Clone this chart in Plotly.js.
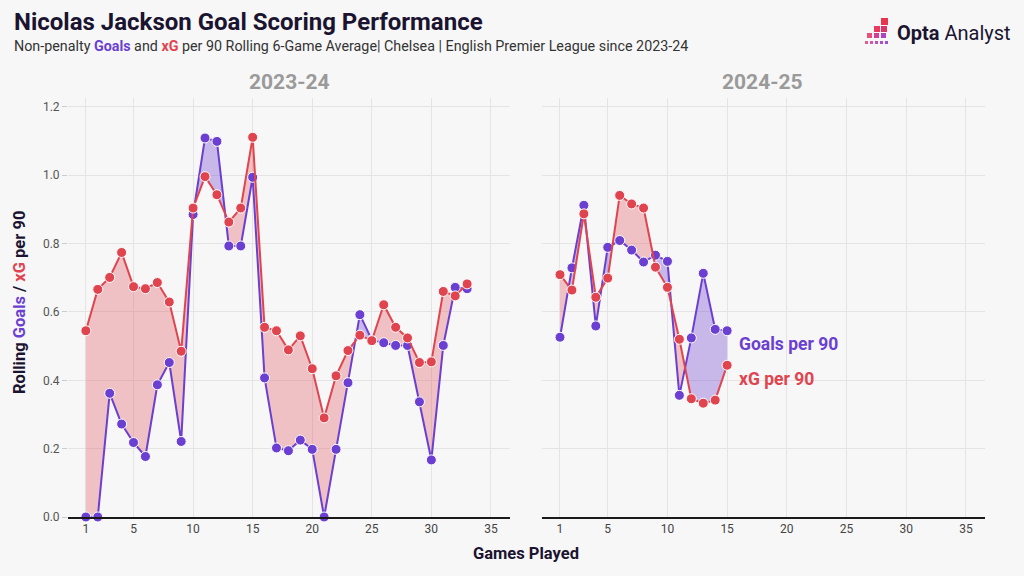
<!DOCTYPE html>
<html>
<head>
<meta charset="utf-8">
<script src="https://cdn.plot.ly/plotly-3.0.1.min.js"></script>
<style>
html,body{margin:0;padding:0;background:#f7f7f7;}
#chart{width:1024px;height:576px;}
</style>
</head>
<body>
<div id="chart"></div>
<script>
// ---- Data ----
const games2324 = [1,2,3,4,5,6,7,8,9,10,11,12,13,14,15,16,17,18,19,20,21,22,23,24,25,26,27,28,29,30,31,32,33];
const goals2324 = [0,0,0.362,0.272,0.218,0.177,0.387,0.452,0.221,0.885,1.109,1.099,0.793,0.793,0.994,0.407,0.202,0.194,0.225,0.198,0,0.198,0.393,0.592,0.518,0.510,0.502,0.502,0.337,0.167,0.502,0.672,0.668];
const xg2324    = [0.545,0.666,0.701,0.774,0.674,0.668,0.686,0.629,0.485,0.904,0.996,0.943,0.863,0.904,1.111,0.555,0.545,0.489,0.530,0.434,0.290,0.413,0.487,0.532,0.516,0.621,0.555,0.524,0.452,0.454,0.660,0.647,0.682];
const games2425 = [1,2,3,4,5,6,7,8,9,10,11,12,13,14,15];
const goals2425 = [0.526,0.729,0.912,0.559,0.789,0.809,0.781,0.746,0.766,0.748,0.356,0.524,0.713,0.549,0.545];
const xg2425    = [0.709,0.664,0.887,0.643,0.699,0.941,0.916,0.904,0.731,0.672,0.520,0.346,0.333,0.342,0.444];
const xTicks = [1,5,10,15,20,25,30,35];
const yTicks = [0,0.2,0.4,0.6,0.8,1.0,1.2];
const seasonLabels = ["2023-24","2024-25"];

// ---- Styles ----
const PURPLE = "#6b3fd1";
const RED = "#e0444f";
const PURPLE_FILL = "rgba(107,63,209,0.34)";
const RED_FILL = "rgba(224,68,79,0.30)";
const BG = "#f7f7f7";

function withCrossings(x, g, e){
  const X=[],G=[],E=[],L=[];
  for(let i=0;i<x.length;i++){
    X.push(x[i]);G.push(g[i]);E.push(e[i]);L.push(Math.min(g[i],e[i]));
    if(i<x.length-1){
      const d0=g[i]-e[i], d1=g[i+1]-e[i+1];
      if(d0*d1<0){
        const t=d0/(d0-d1);
        const xc=x[i]+t*(x[i+1]-x[i]);
        const yc=g[i]+t*(g[i+1]-g[i]);
        X.push(xc);G.push(yc);E.push(yc);L.push(yc);
      }
    }
  }
  return {X,G,E,L};
}

function seasonTraces(x,g,e,xa,ya){
  const c=withCrossings(x,g,e);
  const base={x:c.X,xaxis:xa,yaxis:ya,mode:"lines",line:{width:0},hoverinfo:"skip",showlegend:false};
  return [
    Object.assign({},base,{y:c.L}),
    Object.assign({},base,{y:c.E,fill:"tonexty",fillcolor:RED_FILL}),
    Object.assign({},base,{y:c.L}),
    Object.assign({},base,{y:c.G,fill:"tonexty",fillcolor:PURPLE_FILL}),
    {x:x,y:g,xaxis:xa,yaxis:ya,mode:"lines+markers",cliponaxis:false,showlegend:false,
     line:{color:PURPLE,width:2},marker:{color:PURPLE,size:10,line:{color:"#ffffff",width:1}}},
    {x:x,y:e,xaxis:xa,yaxis:ya,mode:"lines+markers",cliponaxis:false,showlegend:false,
     line:{color:RED,width:2},marker:{color:RED,size:10,line:{color:"#ffffff",width:1}}}
  ];
}

const data = [].concat(
  seasonTraces(games2324,goals2324,xg2324,"x","y"),
  seasonTraces(games2425,goals2425,xg2425,"x2","y2")
);

const FONT="Roboto, 'Noto Sans', sans-serif";
const xaxisBase={
  range:[-0.5,36.6],tickvals:xTicks,ticktext:xTicks.map(String),
  showgrid:true,gridcolor:"#e4e4e4",gridwidth:1,zeroline:false,
  showline:true,linecolor:"#1a1a1a",linewidth:2,ticks:"",
  tickfont:{family:FONT,size:12,color:"#444"},fixedrange:true
};
const L=68,R=39,T=98,B=59,W=1024,H=576;
const pw=W-L-R, ph=H-T-B;
const px=v=>(v-L)/pw, py=v=>(H-B-v)/ph;

const layout={
  width:W,height:H,
  paper_bgcolor:BG,plot_bgcolor:BG,
  margin:{l:L,r:R,t:T,b:B},
  showlegend:false,
  font:{family:FONT},
  xaxis:Object.assign({},xaxisBase,{domain:[0,0.482],anchor:"y"}),
  xaxis2:Object.assign({},xaxisBase,{domain:[0.517,1],anchor:"y2"}),
  yaxis:{range:[0,1.226],tickvals:yTicks,ticktext:yTicks.map(v=>v.toFixed(1)),
    showgrid:true,gridcolor:"#e4e4e4",zeroline:false,showline:false,
    ticks:"outside",ticklen:5,tickcolor:"#cccccc",
    tickfont:{family:FONT,size:12,color:"#555"},anchor:"x",fixedrange:true},
  yaxis2:{matches:"y",range:[0,1.226],tickvals:yTicks,showticklabels:false,
    showgrid:true,gridcolor:"#e4e4e4",zeroline:false,showline:false,anchor:"x2",fixedrange:true},
  annotations:[
    {xref:"paper",yref:"paper",x:px(12),y:py(22),xanchor:"left",yanchor:"middle",showarrow:false,
     text:"<b>Nicolas Jackson Goal Scoring Performance</b>",font:{family:FONT,size:24,color:"#1b1430"}},
    {xref:"paper",yref:"paper",x:px(12),y:py(46),xanchor:"left",yanchor:"middle",showarrow:false,
     text:"Non-penalty <b><span style='color:"+PURPLE+"'>Goals</span></b> and <b><span style='color:"+RED+"'>xG</span></b> per 90 Rolling 6-Game Average| Chelsea | English Premier League since 2023-24",
     font:{family:FONT,size:14.3,color:"#333"}},
    {xref:"paper",yref:"paper",x:px(289),y:py(82),xanchor:"center",yanchor:"middle",showarrow:false,
     text:"<b>"+seasonLabels[0]+"</b>",font:{family:FONT,size:21,color:"#9a9a9a"}},
    {xref:"paper",yref:"paper",x:px(762),y:py(82),xanchor:"center",yanchor:"middle",showarrow:false,
     text:"<b>"+seasonLabels[1]+"</b>",font:{family:FONT,size:21,color:"#9a9a9a"}},
    {xref:"paper",yref:"paper",x:px(19),y:py(303),xanchor:"center",yanchor:"middle",showarrow:false,textangle:-90,
     text:"<b>Rolling <span style='color:"+PURPLE+"'>Goals</span> / <span style='color:"+RED+"'>xG</span> per 90</b>",
     font:{family:FONT,size:16.5,color:"#1b1430"}},
    {xref:"paper",yref:"paper",x:px(526),y:py(553),xanchor:"center",yanchor:"middle",showarrow:false,
     text:"<b>Games Played</b>",font:{family:FONT,size:16.5,color:"#1b1430"}},
    {xref:"x2",yref:"y2",x:15.85,y:0.506,xanchor:"left",yanchor:"middle",showarrow:false,
     text:"<b>Goals per 90</b>",font:{family:FONT,size:17.5,color:PURPLE}},
    {xref:"x2",yref:"y2",x:15.85,y:0.404,xanchor:"left",yanchor:"middle",showarrow:false,
     text:"<b>xG per 90</b>",font:{family:FONT,size:17.5,color:RED}},
    {xref:"paper",yref:"paper",x:px(895),y:py(33),xanchor:"left",yanchor:"middle",showarrow:false,
     text:"<b>Opta</b> Analyst",font:{family:FONT,size:20,color:"#1b1430"}}
  ],
  shapes:[]
};

// Logo icon squares (decorative)
const sq=(x0,y0,s,c)=>({type:"rect",xref:"paper",yref:"paper",x0:px(x0),x1:px(x0+s),y0:py(y0+s),y1:py(y0),fillcolor:c,line:{width:0}});
layout.shapes.push(
  sq(881,18,7,"#e8344e"),
  sq(874,26,6,"#e63a5e"),sq(881,26,6,"#dd3468"),
  sq(867,33,5,"#e8507a"),sq(874,33,5,"#d0409a"),sq(881,33,5,"#b043c0"),
  sq(865,41,3,"#e0608a"),sq(870,41,3,"#d058a8"),sq(875,41,3,"#c050c0"),sq(880,41,3,"#a850d0"),sq(885,41,3,"#9a50d8")
);

Plotly.newPlot("chart",data,layout,{displayModeBar:false,staticPlot:true});
</script>
</body>
</html>
